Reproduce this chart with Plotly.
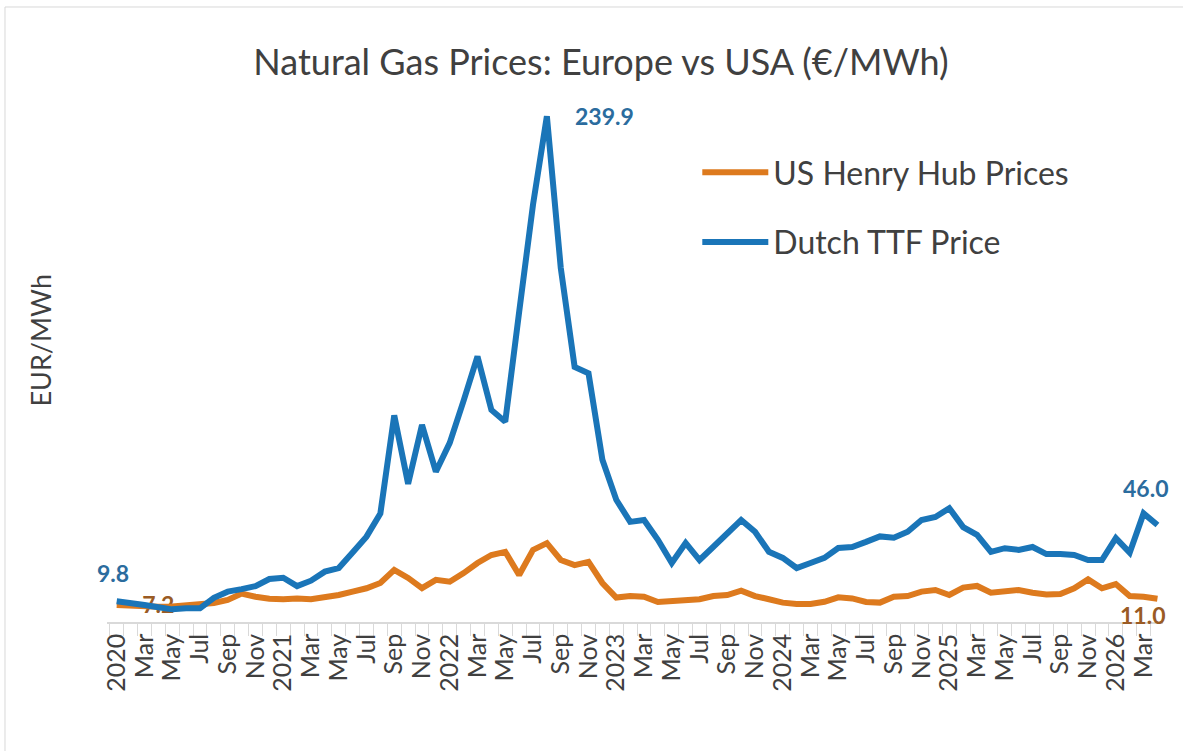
import plotly.graph_objects as go

# monthly values, Jan 2020 .. Apr 2026 (EUR/MWh)
ttf = [9.8, 9.2, 8.1, 7.0, 6.0, 6.5, 6.5, 11.5, 14.4, 15.6,
       17.0, 20.4, 21.0, 17.0, 19.6, 23.9, 25.6, 33.0, 40.5, 51.5,
       98.0, 65.5, 93.5, 71.3, 85.0, 105.0, 126.0, 100.6, 95.0, 147.0,
       198.0, 239.9, 168.0, 121.0, 118.0, 77.0, 58.0, 47.5, 48.4, 39.0,
       28.0, 37.5, 29.4, 35.7, 42.2, 48.4, 42.8, 33.3, 30.4, 25.6,
       28.0, 30.4, 35.1, 35.6, 38.0, 40.6, 40.0, 42.8, 48.4, 49.8,
       54.0, 45.0, 41.3, 33.3, 35.0, 34.2, 35.6, 32.2, 32.2, 31.8,
       29.4, 29.4, 39.8, 32.9, 51.5, 46.0]

henry_hub = [8.1, 7.6, 7.3, 7.2, 7.3, 8.0, 8.3, 9.0, 10.5, 13.5,
             12.0, 11.0, 10.8, 11.2, 10.8, 11.7, 12.8, 14.4, 16.0, 18.5,
             24.7, 20.9, 16.1, 20.0, 19.1, 23.2, 28.0, 31.8, 33.3, 22.3,
             34.2, 37.4, 29.4, 27.0, 28.5, 18.5, 11.6, 12.3, 12.0, 9.5,
             10.1, 10.8, 10.8, 12.3, 12.8, 14.9, 12.3, 10.8, 9.2, 8.5,
             8.5, 9.6, 11.7, 11.2, 9.5, 9.2, 12.0, 12.3, 14.4, 15.2,
             12.8, 16.3, 17.1, 13.9, 14.9, 15.2, 13.9, 13.1, 13.3, 16.0,
             20.2, 16.0, 18.0, 12.3, 12.0, 11.0]

tick_labels = ["2020", "Mar", "May", "Jul", "Sep", "Nov",
               "2021", "Mar", "May", "Jul", "Sep", "Nov",
               "2022", "Mar", "May", "Jul", "Sep", "Nov",
               "2023", "Mar", "May", "Jul", "Sep", "Nov",
               "2024", "Mar", "May", "Jul", "Sep", "Nov",
               "2025", "Mar", "May", "Jul", "Sep", "Nov",
               "2026", "Mar"]

BLUE = "#1A75B8"
ORANGE = "#DD7A1E"
BLUE_LBL = "#2B6C9E"
ORANGE_LBL = "#9A5B24"
FONT = "Lato"

idx = list(range(len(ttf)))
peak = ttf.index(max(ttf))
low = henry_hub.index(min(henry_hub))

fig = go.Figure()

# min label sits under the lines, like in the source chart
fig.add_trace(go.Scatter(
    x=[idx[low]], y=[henry_hub[low]], mode="text",
    text=[f"{henry_hub[low]:.1f}"],
    textfont=dict(family=FONT, size=23, color=ORANGE_LBL, weight="bold"),
    showlegend=False, hoverinfo="skip",
))
fig.add_trace(go.Scatter(
    x=idx, y=henry_hub, mode="lines", name="US Henry Hub Prices",
    legendgroup="hh", line=dict(color=ORANGE, width=6),
))
fig.add_trace(go.Scatter(
    x=idx, y=ttf, mode="lines", name="Dutch TTF Price",
    legendgroup="ttf", line=dict(color=BLUE, width=6),
))

lbl = dict(family=FONT, size=23, weight="bold")
fig.add_annotation(x=idx[0], y=ttf[0], text=f"{ttf[0]:.1f}", showarrow=False,
                   yshift=28, xshift=-4, font=dict(lbl, color=BLUE_LBL))
fig.add_annotation(x=idx[peak], y=ttf[peak], text=f"{ttf[peak]:.1f}", showarrow=False,
                   xshift=58, font=dict(lbl, color=BLUE_LBL))
fig.add_annotation(x=idx[-1], y=ttf[-1], text=f"{ttf[-1]:.1f}", showarrow=False,
                   xshift=-12, yshift=37, font=dict(lbl, color=BLUE_LBL))
fig.add_annotation(x=idx[-1], y=henry_hub[-1], text=f"{henry_hub[-1]:.1f}", showarrow=False,
                   xshift=-15, yshift=-16, font=dict(lbl, color=ORANGE_LBL))

# y axis title
fig.add_annotation(xref="paper", yref="paper", x=-0.063, y=0.535, text="EUR/MWh",
                   xanchor="center", yanchor="middle", textangle=-90, showarrow=False,
                   font=dict(family=FONT, size=27, color="#404040"))

# chart border
fig.add_shape(type="rect", xref="paper", yref="paper",
              x0=-0.0966, x1=1.03, y0=-0.27, y1=1.167,
              line=dict(color="#D9D9D9", width=1))

fig.update_layout(
    width=1183, height=751,
    margin=dict(l=107, r=20, t=95, b=129),
    paper_bgcolor="white", plot_bgcolor="white",
    title=dict(text="Natural Gas Prices: Europe vs USA (€/MWh)",
               x=0.508, xref="container", y=0.917, yref="container",
               xanchor="center", yanchor="middle",
               font=dict(family=FONT, size=36, color="#404040")),
    legend=dict(x=0.559, y=0.905, xanchor="left", yanchor="top",
                font=dict(family=FONT, size=32, color="#404040"),
                itemwidth=66, tracegroupgap=25, bgcolor="rgba(0,0,0,0)"),
    showlegend=True,
    hovermode=False,
)
fig.update_xaxes(
    range=[-0.7, 75.4], tickmode="array",
    tickvals=idx[::2], ticktext=tick_labels, tickangle=-90,
    tickfont=dict(family=FONT, size=25, color="#404040"),
    ticks="", showline=True, linecolor="#D9D9D9", linewidth=1.5,
    showgrid=False, zeroline=False,
    minor=dict(tickmode="linear", tick0=-0.5, dtick=1, ticks="outside",
               ticklen=12, tickcolor="#D9D9D9", showgrid=False),
)
fig.update_yaxes(range=[0, 250], visible=False)

fig.write_html("out.html", config={"displayModeBar": False},
               post_script="document.body.style.margin='0';")
